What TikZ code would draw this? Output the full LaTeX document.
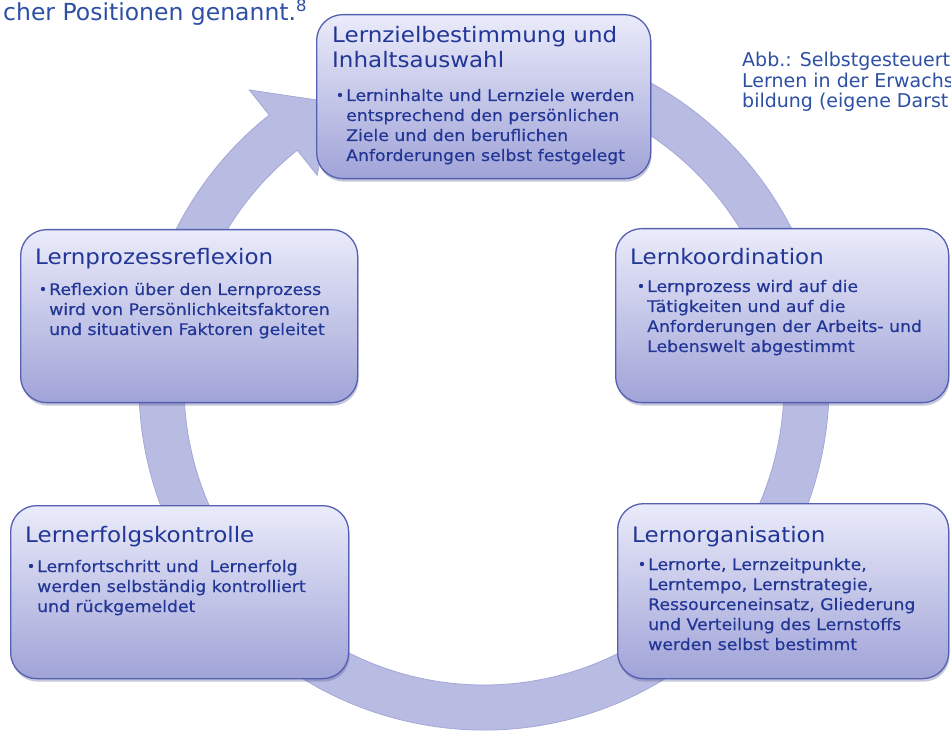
\documentclass[tikz,border=0pt]{standalone}
\usepackage{fontspec}
\setmainfont{DejaVu Sans}
\newfontfamily\boxfont[FakeStretch=1.08]{DejaVu Sans}
\newfontfamily\bulfont[FakeStretch=1.08,FakeBold=0.4]{DejaVu Sans}
\usetikzlibrary{shadows}
\definecolor{txtblue}{RGB}{34,54,150}
\definecolor{outblue}{RGB}{45,80,165}
\definecolor{boxtop}{RGB}{234,235,250}
\definecolor{boxbot}{RGB}{160,163,215}
\definecolor{boxline}{RGB}{86,96,178}
\definecolor{ringc}{RGB}{184,187,226}
\definecolor{ringedge}{RGB}{165,168,215}
\definecolor{shadowc}{RGB}{90,95,150}
\newcommand{\lns}[1]{\begin{tabular}[t]{@{}l@{}}#1\end{tabular}}
\tikzset{
 box/.style={rectangle, rounded corners=26pt, draw=boxline, line width=1.3pt,
   top color=boxtop, bottom color=boxbot, inner sep=0pt, anchor=north west,
   drop shadow={shadow xshift=1pt, shadow yshift=-3pt, opacity=0.35, fill=shadowc}},
 ttl/.style={anchor=base west, inner sep=0pt, text=txtblue, font=\boxfont\fontsize{21.3}{25}\selectfont},
 bul/.style={anchor=base west, inner sep=0pt, text=txtblue, font=\bulfont\fontsize{16}{20}\selectfont},
 bdot/.style={circle, fill=txtblue, inner sep=0pt, minimum size=4.4pt},
 outtxt/.style={anchor=base west, inner sep=0pt, text=outblue},
}
\begin{document}
\begin{tikzpicture}[x=1pt,y=1pt]
\useasboundingbox (0,0) rectangle (951,-735);
\clip (0,0) rectangle (951,-735);
\fill[white] (0,0) rectangle (951,-735);

% circular arrow
\begin{scope}[shift={(484,-385)}]
\path[fill=ringc, draw=ringedge, line width=0.8pt]
  (75:345pt) arc[start angle=75, end angle=-231.5, radius=345pt]
  -- (-231.5:377pt) -- (-241.5:322pt) -- (-231.5:268pt)
  -- (-231.5:300pt) arc[start angle=-231.5, end angle=75, radius=300pt] -- cycle;
\end{scope}

% boxes
\node[box, minimum width=334pt, minimum height=164pt] (b1) at (316,-14) {};
\node[box, minimum width=337pt, minimum height=173pt] (b2) at (20,-229) {};
\node[box, minimum width=333pt, minimum height=174pt] (b3) at (615,-228) {};
\node[box, minimum width=338pt, minimum height=173pt] (b4) at (10,-505) {};
\node[box, minimum width=331pt, minimum height=175pt] (b5) at (617,-503) {};

% box 1
\node[ttl] (t1) at (332,-43) {\lns{Lernzielbestimmung und\\Inhaltsauswahl}};
\node[bdot] (d1) at (340,-95) {};
\node[bul] (x1) at (346,-101) {\lns{Lerninhalte und Lernziele werden\\entsprechend den persönlichen\\Ziele und den beruflichen\\Anforderungen selbst festgelegt}};

% box 2
\node[ttl] (t2) at (35,-265) {Lernprozessreflexion};
\node[bdot] (d2) at (43,-289) {};
\node[bul] (x2) at (49,-295) {\lns{Reflexion über den Lernprozess\\wird von Persönlichkeitsfaktoren\\und situativen Faktoren geleitet}};

% box 3
\node[ttl] (t3) at (630,-265) {Lernkoordination};
\node[bdot] (d3) at (641,-286) {};
\node[bul] (x3) at (647,-292) {\lns{Lernprozess wird auf die\\Tätigkeiten und auf die\\Anforderungen der Arbeits- und\\Lebenswelt abgestimmt}};

% box 4
\node[ttl] (t4) at (25,-542) {Lernerfolgskontrolle};
\node[bdot] (d4) at (31,-566) {};
\node[bul] (x4) at (37,-572) {\lns{Lernfortschritt und \ Lernerfolg\\werden selbständig kontrolliert\\und rückgemeldet}};

% box 5
\node[ttl] (t5) at (632,-542) {Lernorganisation};
\node[bdot] (d5) at (642,-564) {};
\node[bul] (x5) at (648,-570) {\lns{Lernorte, Lernzeitpunkte,\\Lerntempo, Lernstrategie,\\Ressourceneinsatz, Gliederung\\und Verteilung des Lernstoffs\\werden selbst bestimmt}};

% surrounding text
\node[outtxt, font=\fontsize{23.5}{28}\selectfont] (o1) at (3,-21) {cher Positionen genannt.\textsuperscript{8}};
\node[outtxt, font=\fontsize{19}{20}\selectfont] (o2) at (742,-67) {\lns{Abb.: Selbstgesteuert\\Lernen in der Erwachs\\bildung (eigene Darst}};
\end{tikzpicture}
\end{document}
